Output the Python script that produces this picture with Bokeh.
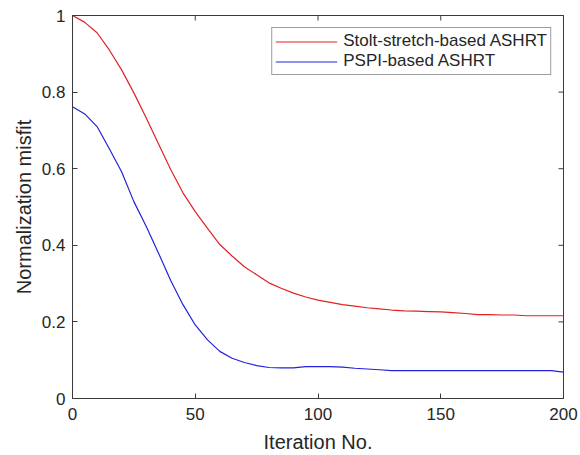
import math
from bokeh.plotting import figure
from bokeh.models import Range1d, FixedTicker, Legend, LegendItem
from bokeh.embed import file_html
from bokeh.resources import INLINE

iterations = [0, 5, 10, 15, 20, 25, 30, 35, 40, 45, 50, 55, 60, 65, 70, 75, 80, 85, 90, 95,
              100, 105, 110, 115, 120, 125, 130, 135, 140, 145, 150, 155, 160, 165, 170, 175,
              180, 185, 190, 195, 200]
stolt_misfit = [1.000, 0.982, 0.955, 0.910, 0.858, 0.798, 0.733, 0.665, 0.598, 0.537,
                0.488, 0.444, 0.402, 0.372, 0.344, 0.323, 0.302, 0.288, 0.275, 0.265,
                0.257, 0.251, 0.245, 0.241, 0.237, 0.234, 0.231, 0.229, 0.228, 0.227,
                0.226, 0.224, 0.222, 0.219, 0.219, 0.218, 0.218, 0.216, 0.216, 0.216, 0.216]
pspi_misfit = [0.762, 0.743, 0.710, 0.652, 0.592, 0.514, 0.450, 0.380, 0.308, 0.245,
               0.192, 0.153, 0.123, 0.105, 0.094, 0.086, 0.081, 0.080, 0.080, 0.083,
               0.083, 0.083, 0.082, 0.079, 0.077, 0.075, 0.073, 0.073, 0.073, 0.073,
               0.073, 0.073, 0.073, 0.073, 0.073, 0.073, 0.073, 0.073, 0.073, 0.073, 0.069]
series_names = ["Stolt-stretch-based ASHRT", "PSPI-based ASHRT"]
x_ticks = [0, 50, 100, 150, 200]
y_ticks = [0, 0.2, 0.4, 0.6, 0.8, 1.0]
y_tick_labels = ["0", "0.2", "0.4", "0.6", "0.8", "1"]
x_min, x_max = 0, 200
y_min, y_max = 0, 1

FONT = "Liberation Sans"
AX = "#3a3a3a"
TXT = "#262626"

p = figure(width=580, height=455, output_backend="svg", toolbar_location=None,
           x_range=Range1d(x_min, x_max), y_range=Range1d(y_min, y_max),
           min_border_left=72, min_border_right=17, min_border_top=15, min_border_bottom=55)
p.grid.visible = False
p.outline_line_color = AX
p.outline_line_width = 1
p.background_fill_color = "white"

for ax in (p.xaxis[0], p.yaxis[0]):
    ax.axis_line_color = AX
    ax.major_tick_line_color = AX
    ax.major_tick_in = 5
    ax.major_tick_out = 0
    ax.minor_tick_line_color = None
    ax.major_label_text_font = FONT
    ax.major_label_text_color = TXT
    ax.major_label_text_font_size = "17px"
    ax.axis_label_text_font = FONT
    ax.axis_label_text_color = TXT
    ax.axis_label_text_font_size = "20px"
    ax.axis_label_text_font_style = "normal"

p.xaxis.ticker = FixedTicker(ticks=x_ticks)
p.xaxis.axis_label = "Iteration No."
p.xaxis.major_label_standoff = 9
p.xaxis.axis_label_standoff = 8
p.yaxis.ticker = FixedTicker(ticks=y_ticks)
p.yaxis.major_label_overrides = {t: s for t, s in zip(y_ticks, y_tick_labels)}
p.yaxis.axis_label = "Normalization misfit"
p.yaxis.major_label_standoff = 7
p.yaxis.axis_label_standoff = 4

r1 = p.line(iterations, stolt_misfit, line_color="#e02222", line_width=1.2)
r2 = p.line(iterations, pspi_misfit, line_color="#2222dd", line_width=1.2)

# inward tick marks on the top and right edges of the box (MATLAB style)
p.scatter(x=x_ticks, y=[y_max] * len(x_ticks), marker="dash", angle=math.pi / 2,
          size=10, line_color=AX, line_width=1)
p.scatter(x=[x_max] * len(y_ticks), y=y_ticks, marker="dash",
          size=10, line_color=AX, line_width=1)

leg = Legend(items=[LegendItem(label=series_names[0], renderers=[r1]),
                    LegendItem(label=series_names[1], renderers=[r2])],
             location="top_right")
leg.margin = 12
leg.padding = 3
leg.spacing = 0
leg.label_height = 17
leg.glyph_height = 17
leg.glyph_width = 62
leg.label_standoff = 6
leg.label_text_font = FONT
leg.label_text_font_size = "17px"
leg.label_text_color = TXT
leg.border_line_color = AX
leg.border_line_width = 1
leg.background_fill_alpha = 1
p.add_layout(leg)

open("out.html", "w").write(file_html(p, INLINE))
